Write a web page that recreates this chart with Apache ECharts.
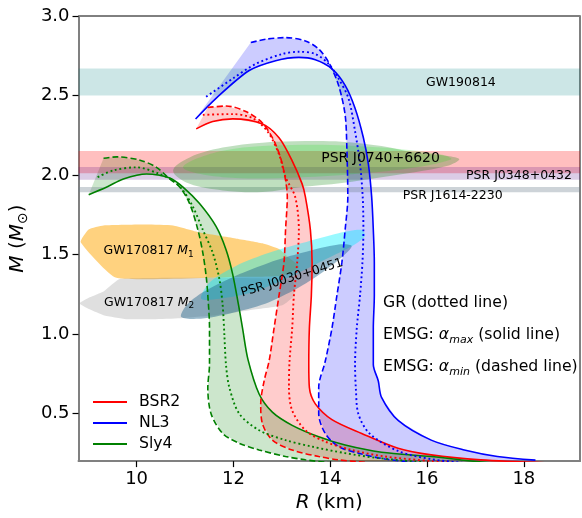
<!DOCTYPE html>
<html>
<head>
<meta charset="utf-8">
<script src="https://cdn.jsdelivr.net/npm/echarts@6/dist/echarts.min.js"></script>
<style>html,body{margin:0;padding:0;background:#fff}#c{width:582px;height:518px}</style>
</head>
<body>
<div id="c"></div>
<script>
// ---------- data (R in km, M in solar masses) ----------
const xTicks = [10, 12, 14, 16, 18];
const yTicks = [0.5, 1.0, 1.5, 2.0, 2.5, 3.0];

const eosNames = ['BSR2', 'NL3', 'Sly4'];

const bsr2Solid = [[11.231,2.290],[11.573,2.336],[11.984,2.353],[12.599,2.321],[12.942,2.234],[13.214,2.089],[13.419,1.944],[13.487,1.862],[13.59,1.655],[13.625,1.448],[13.61,1.242],[13.569,1.035],[13.557,0.808],[13.569,0.663],[13.692,0.560],[14.035,0.461],[14.65,0.374],[15.40,0.281],[16.086,0.239],[17.11,0.208],[18.55,0.188]];
const bsr2Dashed = [[11.47,2.424],[11.846,2.434],[12.256,2.399],[12.599,2.327],[12.84,2.213],[13.01,2.068],[13.113,1.862],[13.077,1.655],[13.044,1.448],[12.942,1.242],[12.839,1.035],[12.736,0.828],[12.634,0.704],[12.564,0.560],[12.599,0.436],[12.804,0.332],[13.214,0.270],[13.762,0.229],[14.172,0.208],[14.856,0.188]];
const bsr2Dotted = [[11.368,2.378],[11.984,2.383],[12.394,2.358],[12.702,2.275],[12.942,2.130],[13.077,1.986],[13.276,1.862],[13.352,1.655],[13.317,1.448],[13.249,1.242],[13.214,1.035],[13.159,0.828],[13.147,0.663],[13.214,0.518],[13.487,0.394],[13.897,0.322],[14.445,0.270],[15.128,0.229],[16.09,0.200],[16.8,0.185]];

const nl3Solid = [[11.218,2.352],[11.641,2.482],[12.326,2.657],[12.872,2.719],[13.352,2.740],[13.692,2.725],[14.035,2.668],[14.308,2.564],[14.513,2.420],[14.685,2.234],[14.788,2.068],[14.856,1.862],[14.89,1.655],[14.911,1.448],[14.911,1.242],[14.89,1.035],[14.89,0.808],[14.993,0.704],[15.06,0.601],[15.403,0.456],[16.086,0.332],[16.77,0.270],[17.454,0.229],[18.24,0.206]];
const nl3Dashed = [[12.359,2.833],[12.667,2.854],[13.077,2.864],[13.487,2.843],[13.762,2.792],[13.967,2.709],[14.172,2.564],[14.308,2.378],[14.343,2.172],[14.363,1.862],[14.308,1.655],[14.24,1.448],[14.138,1.242],[14.035,1.035],[13.897,0.828],[13.762,0.663],[13.762,0.498],[13.897,0.374],[14.172,0.291],[14.583,0.250],[15.128,0.213],[15.88,0.188]];
const nl3Dotted = [[11.436,2.492],[11.984,2.606],[12.462,2.699],[13.009,2.761],[13.352,2.775],[13.692,2.761],[13.967,2.699],[14.172,2.606],[14.377,2.482],[14.513,2.275],[14.616,2.068],[14.671,1.862],[14.685,1.655],[14.665,1.448],[14.616,1.242],[14.548,1.035],[14.513,0.808],[14.53,0.654],[14.58,0.498],[14.81,0.374],[15.41,0.262],[16.09,0.212],[16.76,0.188]];

const sly4Solid = [[9.01,1.876],[9.385,1.924],[9.727,1.975],[10.205,2.006],[10.685,1.981],[10.958,1.924],[11.30,1.820],[11.641,1.676],[11.846,1.531],[11.983,1.378],[12.107,1.179],[12.189,1.035],[12.3,0.84],[12.531,0.622],[12.804,0.508],[13.214,0.425],[13.762,0.353],[14.308,0.301],[15.06,0.256],[16.086,0.229],[16.763,0.205],[17.3,0.190]];
const sly4Dashed = [[9.317,2.105],[9.59,2.114],[10.07,2.093],[10.41,2.048],[10.685,1.975],[10.89,1.924],[11.095,1.820],[11.266,1.655],[11.368,1.510],[11.436,1.366],[11.471,1.242],[11.506,1.035],[11.506,0.808],[11.471,0.663],[11.538,0.498],[11.778,0.374],[12.12,0.312],[12.53,0.270],[13.077,0.229],[13.487,0.208],[14.035,0.188]];
const sly4Dotted = [[9.194,1.986],[9.522,2.029],[10.0,2.048],[10.48,2.006],[10.753,1.965],[10.958,1.903],[11.163,1.800],[11.368,1.655],[11.573,1.510],[11.71,1.345],[11.778,1.180],[11.813,0.994],[11.846,0.808],[11.916,0.663],[12.121,0.498],[12.531,0.394],[13.077,0.332],[13.625,0.291],[14.308,0.250],[14.993,0.219],[15.88,0.194]];

// horizontal mass bands
const bandNames = ['GW190814', 'PSR J0740+6620', 'PSR J0348+0432', 'PSR J1614-2230'];
const bandLow  = [2.50, 2.01, 1.97, 1.892];
const bandHigh = [2.67, 2.15, 2.05, 1.924];

// observational regions (outlines)
const gwM1 = [[8.845,1.577],[9.009,1.657],[9.317,1.682],[10.199,1.688],[10.753,1.682],[11.307,1.638],[12.045,1.601],[12.599,1.570],[12.948,1.533],[13.153,1.477],[13.358,1.421],[13.009,1.366],[12.189,1.359],[9.584,1.353]];
const gwM2 = [[9.668,1.347],[13.214,1.341],[13.255,1.242],[13.009,1.180],[12.332,1.149],[11.635,1.118],[10.896,1.099],[10.342,1.093],[9.788,1.093],[9.317,1.118],[9.03,1.155],[8.825,1.192],[9.03,1.230],[9.317,1.267]];
const j0030A = [[11.333,1.221],[11.506,1.324],[12.051,1.428],[12.736,1.510],[13.419,1.572],[14.172,1.634],[14.65,1.655],[14.718,1.624],[14.685,1.603],[14.445,1.551],[13.762,1.448],[13.077,1.345],[12.394,1.262],[11.711,1.221]];
const j0030B = [[10.923,1.107],[11.026,1.179],[11.368,1.262],[12.051,1.366],[12.736,1.448],[13.419,1.510],[14.172,1.562],[14.445,1.551],[14.103,1.448],[13.419,1.304],[12.736,1.200],[12.051,1.138],[11.368,1.097]];
const j0740Outer = [[10.753,2.027],[11.095,2.110],[11.778,2.172],[12.599,2.203],[13.481,2.213],[14.24,2.209],[15.06,2.182],[15.744,2.141],[16.429,2.120],[16.667,2.099],[16.429,2.058],[15.744,2.017],[15.06,1.986],[14.24,1.949],[13.419,1.924],[12.599,1.893],[11.778,1.903],[11.095,1.944]];
const j0740Inner = [[10.958,2.048],[11.778,2.153],[13.419,2.190],[15.06,2.172],[16.29,2.128],[16.496,2.097],[15.47,2.035],[13.419,1.986],[11.778,1.986]];

// region labels: text, R, M
const labelTexts = ['GW190814', 'PSR J0740+6620', 'PSR J0348+0432', 'PSR J1614-2230', 'GW170817 {i|M}{s|1}', 'GW170817 {i|M}{s|2}', 'PSR J0030+0451'];
const labelR = [16.70, 15.04, 17.90, 16.53, 10.25, 10.26, 13.21];
const labelM = [2.580, 2.104, 1.998, 1.868, 1.521, 1.198, 1.352];
const labelAngle = [0, 0, 0, 0, 0, 0, 17];
const labelSize = [12.5, 14, 12.5, 12.5, 12.5, 12.5, 12.5];

// ---------- chart ----------
const FONT = 'DejaVu Sans';
const xMin = 8.8, xMax = 19.16, yMin = 0.2, yMax = 3.0;

function polySeries(points, fill, z, smooth) {
  return {
    type: 'custom', coordinateSystem: 'cartesian2d', clip: true, silent: true, z: z,
    data: points, encode: { x: 0, y: 1 },
    renderItem: function (params, api) {
      if (params.dataIndex !== 0) return null;
      const pts = points.map(p => api.coord(p));
      return { type: 'polygon', shape: { points: pts, smooth: smooth || 0 }, style: { fill: fill } };
    }
  };
}
function lineSeries(name, data, color, type, width, z) {
  return {
    name: name, type: 'line', data: data, showSymbol: false, symbol: 'none', smooth: 0.3,
    clip: true, silent: true, z: z,
    lineStyle: { color: color, width: width, type: type }, itemStyle: { color: color }
  };
}
const dashed = [6, 3];
const dotted = [1.9, 2.8];

const series = [];
// fills between alpha_max (solid) and alpha_min (dashed)
series.push(polySeries(bsr2Solid.concat(bsr2Dashed.slice().reverse()), 'rgba(255,0,0,0.2)', 1));
series.push(polySeries(nl3Solid.concat(nl3Dashed.slice().reverse()), 'rgba(0,0,255,0.2)', 1));
series.push(polySeries(sly4Solid.concat(sly4Dashed.slice().reverse()), 'rgba(0,128,0,0.2)', 1));
// bands
const bandColors = ['rgba(0,128,128,0.2)', 'rgba(255,0,0,0.25)', 'rgba(75,0,130,0.2)', 'rgba(112,128,144,0.35)'];
bandNames.forEach((n, i) => {
  series.push(polySeries([[xMin, bandLow[i]], [xMax, bandLow[i]], [xMax, bandHigh[i]], [xMin, bandHigh[i]]], bandColors[i], 2));
});
// observational regions
series.push(polySeries(j0740Outer, 'rgba(0,128,0,0.25)', 3, 0.35));
series.push(polySeries(j0740Inner, 'rgba(0,230,0,0.18)', 3, 0.35));
series.push(polySeries(gwM1, 'rgba(255,165,0,0.5)', 3, 0.15));
series.push(polySeries(gwM2, 'rgba(128,128,128,0.25)', 3, 0.15));
series.push(polySeries(j0030A, 'rgba(0,240,255,0.4)', 4, 0.3));
series.push(polySeries(j0030B, 'rgba(30,100,140,0.45)', 4, 0.3));
// curves (on top)
series.push(lineSeries('BSR2', bsr2Solid, '#ff0000', 'solid', 1.6, 8));
series.push(lineSeries('NL3', nl3Solid, '#0000ff', 'solid', 1.6, 8));
series.push(lineSeries('Sly4', sly4Solid, '#008000', 'solid', 1.6, 8));
series.push(lineSeries('BSR2 min', bsr2Dashed, '#ff0000', dashed, 1.6, 8));
series.push(lineSeries('NL3 min', nl3Dashed, '#0000ff', dashed, 1.6, 8));
series.push(lineSeries('Sly4 min', sly4Dashed, '#008000', dashed, 1.6, 8));
series.push(lineSeries('BSR2 GR', bsr2Dotted, '#ff0000', dotted, 1.9, 8));
series.push(lineSeries('NL3 GR', nl3Dotted, '#0000ff', dotted, 1.9, 8));
series.push(lineSeries('Sly4 GR', sly4Dotted, '#008000', dotted, 1.9, 8));
// labels
const labelPts = labelR.map((r, i) => [r, labelM[i]]);
series.push({
  type: 'custom', coordinateSystem: 'cartesian2d', silent: true, z: 10,
  data: labelPts, encode: { x: 0, y: 1 },
  renderItem: function (params, api) {
    const i = params.dataIndex;
    const c = api.coord(labelPts[i]);
    const fs = labelSize[i];
    return {
      type: 'text', x: c[0], y: c[1], rotation: labelAngle[i] * Math.PI / 180,
      style: {
        text: labelTexts[i], x: 0, y: 0, align: 'center', verticalAlign: 'middle',
        fill: '#000', fontSize: fs, fontFamily: FONT,
        rich: {
          i: { fontStyle: 'italic', fontSize: fs, fontFamily: FONT, fill: '#000', lineHeight: 16 },
          s: { fontSize: 9, fontFamily: FONT, fill: '#000', verticalAlign: 'bottom', lineHeight: 11 }
        }
      }
    };
  }
});

const chart = echarts.init(document.getElementById('c'), null, { renderer: 'canvas' });
chart.setOption({
  animation: false,
  backgroundColor: '#fff',
  grid: { left: 75, right: 2, top: 16, bottom: 49, show: true, borderColor: '#000', borderWidth: 1, backgroundColor: 'transparent' },
  legend: {
    data: eosNames.map(n => ({ name: n, icon: 'rect' })), orient: 'vertical', left: 88, top: 389,
    itemWidth: 34, itemHeight: 1.8, itemGap: 5,
    selectedMode: false,
    textStyle: { fontFamily: FONT, fontSize: 15.7, color: '#000', padding: [0, 0, 0, 7] }
  },
  xAxis: [{
    type: 'value', min: xMin, max: xMax, splitLine: { show: false },
    axisLine: { show: true, onZero: false, lineStyle: { color: '#808080', width: 2 } },
    axisTick: { show: true, customValues: xTicks, length: 6, lineStyle: { color: '#000', width: 1.2 } },
    axisLabel: { customValues: xTicks, margin: 9, fontFamily: FONT, fontSize: 18, color: '#000' },
    name: '{i|R} (km)', nameLocation: 'middle', nameGap: 28,
    nameTextStyle: { fontFamily: FONT, fontSize: 20, color: '#000', rich: { i: { fontStyle: 'italic', fontFamily: FONT, fontSize: 20, color: '#000' } } }
  }],
  yAxis: [{
    type: 'value', min: yMin, max: yMax, splitLine: { show: false },
    axisLine: { show: true, onZero: false, lineStyle: { color: '#808080', width: 2 } },
    axisTick: { show: true, customValues: yTicks, length: 6, lineStyle: { color: '#000', width: 1.2 } },
    axisLabel: { customValues: yTicks, margin: 9, fontFamily: FONT, fontSize: 18, color: '#000', formatter: v => v.toFixed(1) },
    name: '{i|M} ({i|M}{s|⊙})', nameLocation: 'middle', nameGap: 37,
    nameTextStyle: { fontFamily: FONT, fontSize: 20, color: '#000',
      rich: { i: { fontStyle: 'italic', fontFamily: FONT, fontSize: 20, color: '#000', lineHeight: 24 },
              s: { fontFamily: FONT, fontSize: 14, color: '#000', verticalAlign: 'bottom', lineHeight: 18 } } }
  }, {
    type: 'value', position: 'right', min: yMin, max: yMax, splitLine: { show: false },
    axisLine: { show: true, onZero: false, lineStyle: { color: '#808080', width: 2 } },
    axisTick: { show: false }, axisLabel: { show: false }
  }],
  graphic: [
    { type: 'text', x: 383, y: 303, silent: true, z: 20, style: { text: 'GR (dotted line)', fontFamily: FONT, fontSize: 15.7, fill: '#000', verticalAlign: 'middle' } },
    { type: 'text', x: 383, y: 335, silent: true, z: 20, style: { text: 'EMSG: {a|α}{s|max} (solid line)', fontFamily: FONT, fontSize: 15.7, fill: '#000', verticalAlign: 'middle',
      rich: { a: { fontStyle: 'italic', fontFamily: FONT, fontSize: 15.7, fill: '#000', lineHeight: 22 }, s: { fontStyle: 'italic', fontFamily: FONT, fontSize: 11, fill: '#000', verticalAlign: 'bottom', lineHeight: 15 } } } },
    { type: 'text', x: 383, y: 367, silent: true, z: 20, style: { text: 'EMSG: {a|α}{s|min} (dashed line)', fontFamily: FONT, fontSize: 15.7, fill: '#000', verticalAlign: 'middle',
      rich: { a: { fontStyle: 'italic', fontFamily: FONT, fontSize: 15.7, fill: '#000', lineHeight: 22 }, s: { fontStyle: 'italic', fontFamily: FONT, fontSize: 11, fill: '#000', verticalAlign: 'bottom', lineHeight: 15 } } } }
  ],
  series: series
});
</script>
</body>
</html>
